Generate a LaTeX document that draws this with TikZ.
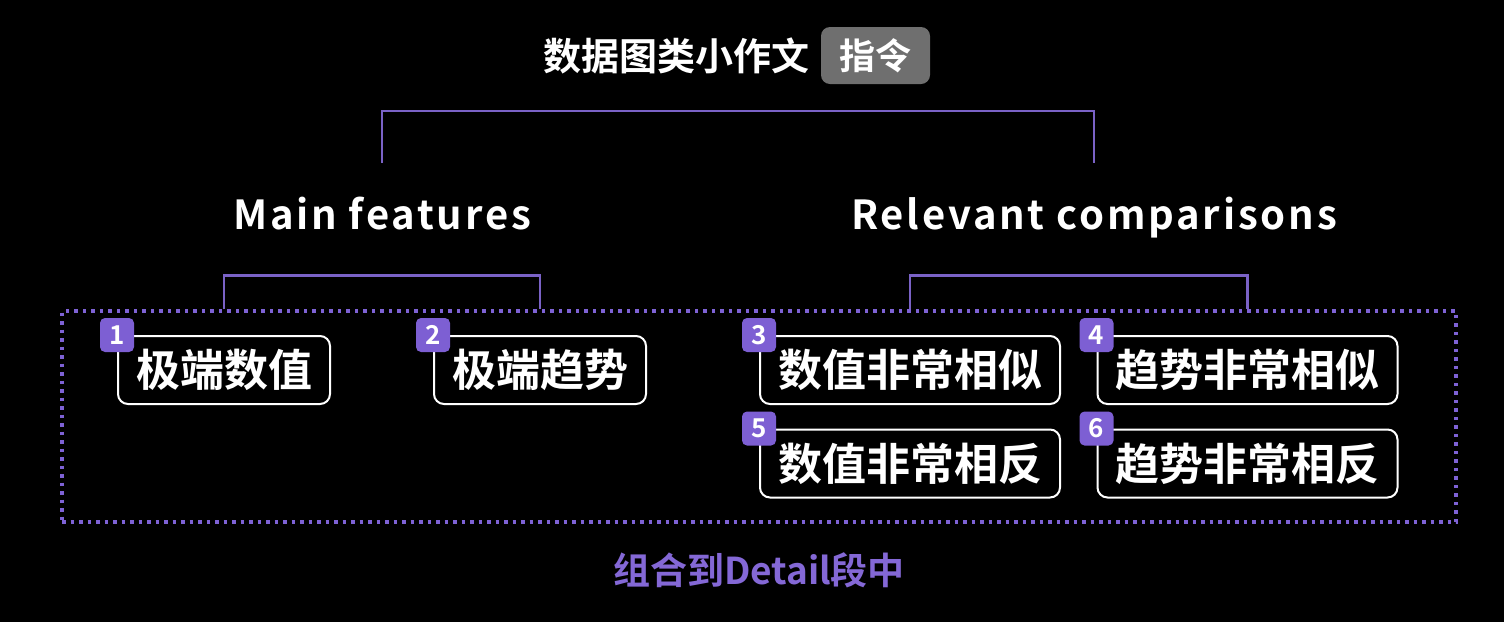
\documentclass[tikz,border=0pt]{standalone}
\usepackage{fontspec}
\setmainfont{Noto Sans CJK SC}[BoldFont=* Bold]
\newfontfamily\headfont{Noto Sans CJK SC}[BoldFont=* Bold, LetterSpace=7]
\usetikzlibrary{calc}
\definecolor{lineP}{HTML}{7A62C6}
\definecolor{badgeP}{HTML}{7D5FD3}
\definecolor{dotP}{HTML}{7E62D5}
\definecolor{footP}{HTML}{8468D6}
\definecolor{tagG}{HTML}{6F6F6F}
\tikzset{
  conn/.style={draw=lineP, line width=2.5pt},
  titletext/.style={text=white, font=\bfseries\fontsize{38}{38}\selectfont, inner sep=0pt},
  tagbox/.style={fill=tagG, rounded corners=9pt, minimum width=109pt, minimum height=57pt, inner sep=0pt, text=white, font=\bfseries\fontsize{36}{36}\selectfont},
  headtext/.style={text=white, font=\headfont\bfseries\fontsize{40}{40}\selectfont, inner sep=0pt, anchor=base},
  frame/.style={draw=dotP, line width=3.5pt, dash pattern=on 3.5pt off 5pt, minimum width=1394pt, minimum height=211pt, inner sep=0pt},
  itembox/.style={draw=white, line width=2pt, rounded corners=10pt, fill=black, minimum width=212pt, minimum height=68pt, inner sep=0pt, text=white, font=\bfseries\fontsize{44}{44}\selectfont},
  widebox/.style={itembox, minimum width=300pt},
  badge/.style={fill=badgeP, rounded corners=5pt, minimum size=34pt, inner sep=0pt, text=white, font=\bfseries\fontsize{26}{26}\selectfont},
  foottext/.style={text=footP, font=\bfseries\fontsize{37}{37}\selectfont, inner sep=0pt}
}
\begin{document}
\begin{tikzpicture}[x=1pt,y=-1pt]
\fill[black] (0,0) rectangle (1504,622);
\useasboundingbox (0,0) rectangle (1504,622);

\node[titletext] (title) at (676,56) {数据图类小作文};
\node[tagbox] (tag) at (875.5,55.5) {指令};

\node[headtext] (mf) at (382,229) {Main features};
\node[headtext] (rc) at (1094,229) {Relevant comparisons};

\draw[conn] ($(mf.base)+(0,-66)$) coordinate (mfTop) -- ++(0,-52) -| ($(rc.base)+(0,-66)$) coordinate (rcTop);

\node[frame] (frame) at (759,416.5) {};

\node[itembox] (b1) at (224,370) {极端数值};
\node[itembox] (b2) at (540,370) {极端趋势};
\node[widebox] (b3) at (910,370) {数值非常相似};
\node[widebox] (b4) at (1247.5,370) {趋势非常相似};
\node[widebox] (b5) at (910,463.5) {数值非常相反};
\node[widebox] (b6) at (1247.5,463.5) {趋势非常相反};

\node[badge] (n1) at (b1.north west) {1};
\node[badge] (n2) at (b2.north west) {2};
\node[badge] (n3) at (b3.north west) {3};
\node[badge] (n4) at (b4.north west) {4};
\node[badge] (n5) at (b5.north west) {5};
\node[badge] (n6) at (b6.north west) {6};

\draw[conn] (b1.north |- frame.north) -- ++(0,-34) -| (b2.north |- frame.north);
\draw[conn] (b3.north |- frame.north) -- ++(0,-34) -| (b4.north |- frame.north);

\node[foottext] (foot) at (759,570) {组合到Detail段中};
\end{tikzpicture}
\end{document}
